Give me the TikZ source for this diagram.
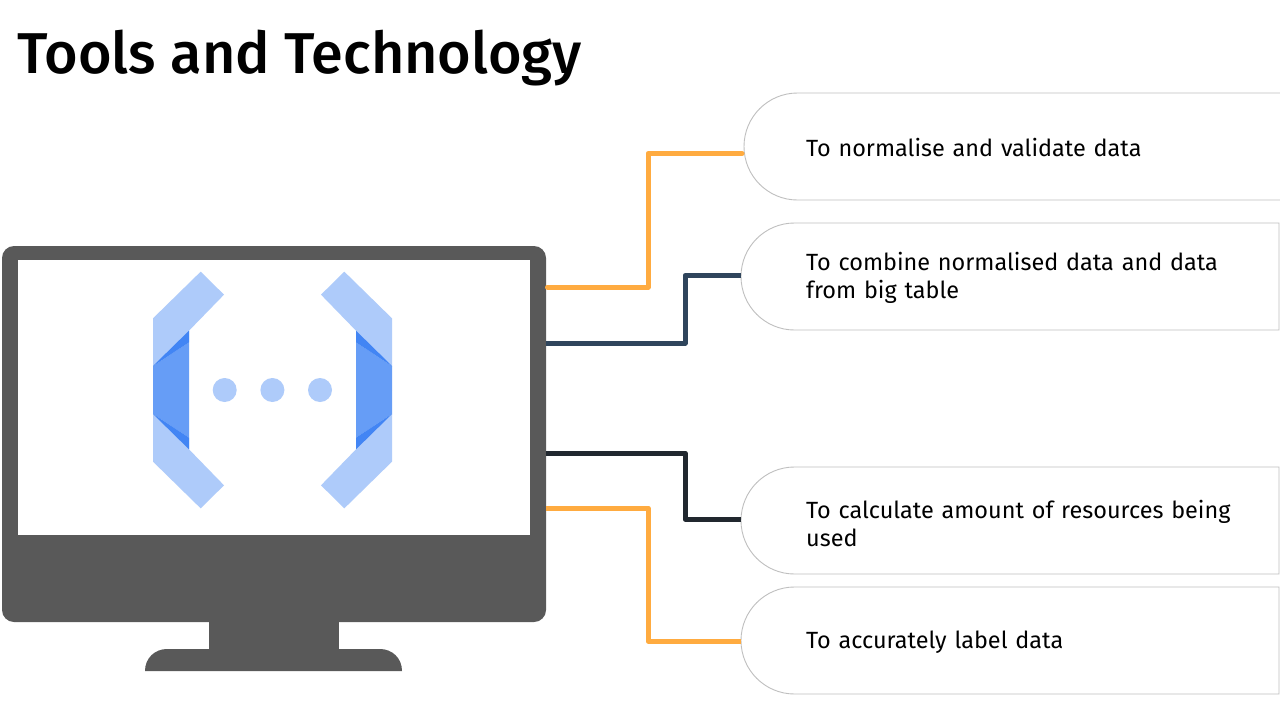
\documentclass[tikz,border=0pt]{standalone}
\usepackage{fontspec}
\setmainfont{Fira Sans}
\newfontfamily\titlefont{Fira Sans Medium}
\usetikzlibrary{shapes.misc}
\definecolor{screengrey}{HTML}{595959}
\definecolor{wireorange}{HTML}{FFAB40}
\definecolor{wirenavy}{HTML}{2F455C}
\definecolor{wireink}{HTML}{21282F}
\definecolor{pillline}{HTML}{BFBFBF}
\definecolor{iconlight}{HTML}{AECBFA}
\definecolor{iconmid}{HTML}{669DF6}
\definecolor{icondark}{HTML}{4285F4}
\tikzset{
  x=1pt,y=-1pt,
  pill/.style={draw=pillline,line width=0.9pt,fill=white,rounded rectangle,rounded rectangle right arc=none,
    minimum height=107pt,inner sep=0pt,outer sep=0pt,anchor=west},
  pilltext/.style={anchor=west,align=left,text width=440pt,inner sep=0pt,font=\fontsize{23.45}{28}\selectfont,text=black},
  wire/.style={line width=5pt,line join=round,line cap=butt},
  grey/.style={fill=screengrey,draw=none,inner sep=0pt,outer sep=0pt},
}
\begin{document}
\begin{tikzpicture}
\useasboundingbox (0,0) rectangle (1280,720);
\fill[white] (0,0) rectangle (1280,720);
\node[anchor=west,inner sep=0pt,font=\fontsize{57.6}{64}\titlefont,text=black] (title) at (17,58) {Tools and Technology};
% monitor
\node[grey,minimum width=130pt,minimum height=30pt,anchor=north west] (neck) at (209,621) {};
\fill[screengrey] (145,671) .. controls (145,658) and (155,649) .. (167,649) -- (380,649) .. controls (392,649) and (402,658) .. (402,671) -- cycle;
\node[grey,rounded corners=12pt,minimum width=544pt,minimum height=376pt,anchor=north west] (monitor) at (2,246) {};
\node[fill=white,inner sep=0pt,minimum width=512pt,minimum height=275pt,anchor=north west] (screen) at (18,260) {};
% icon
\foreach \sx in {1,-1}{\foreach \sy in {1,-1}{
\begin{scope}[shift={(272.5,390)},xscale=\sx/3,yscale=\sy/3]
\fill[iconlight] (-358.5,-215) -- (-215.5,-355) -- (-145.5,-286) -- (-250.5,-178) -- (-250.5,-143) -- (-358.5,-72) -- cycle;
\fill[iconmid] (-358.5,-72) -- (-250.5,-143) -- (-250.5,0) -- (-358.5,0) -- cycle;
\fill[icondark] (-250.5,-178) -- (-250.5,-143) -- (-358.5,-72) -- cycle;
\end{scope}}}
\foreach \n/\cx in {a/224.7,b/272.4,c/320}{
  \node[circle,fill=iconlight,inner sep=0pt,minimum size=24pt] (dot\n) at (\cx,390) {};}
% pills
\node[pill,minimum width=540pt] (p1) at (744,146.5) {};
\node[pill,minimum width=538pt] (p2) at (741,276.5) {};
\node[pill,minimum width=538pt] (p3) at (741,520.5) {};
\node[pill,minimum width=538pt] (p4) at (741,640.5) {};
\node[pilltext] (t1) at (806,147) {To normalise and validate data};
\node[pilltext] (t2) at (806,278) {To combine normalised data and data\\from big table};
\node[pilltext] (t3) at (806,523) {To calculate amount of resources being\\used};
\node[pilltext] (t4) at (806,642) {To accurately label data};
% connectors
\coordinate (s1) at (546,287);
\coordinate (s2) at (546,343);
\coordinate (s3) at (546,453);
\coordinate (s4) at (546,508);
\coordinate (e1) at (742,153.5);
\coordinate (e2) at (741,275.5);
\coordinate (e3) at (741,519);
\coordinate (e4) at (741,641);
\draw[wire,wireorange,line cap=round] (e1) -| (648,287) -- ([xshift=1.5pt]monitor.east |- s1);
\draw[wire,wirenavy] (monitor.east |- s2) -| (685,275.5) -- (e2);
\draw[wire,wireink] (monitor.east |- s3) -| (685,519) -- (e3);
\draw[wire,wireorange] (monitor.east |- s4) -| (648,641) -- (e4);
\end{tikzpicture}
\end{document}
